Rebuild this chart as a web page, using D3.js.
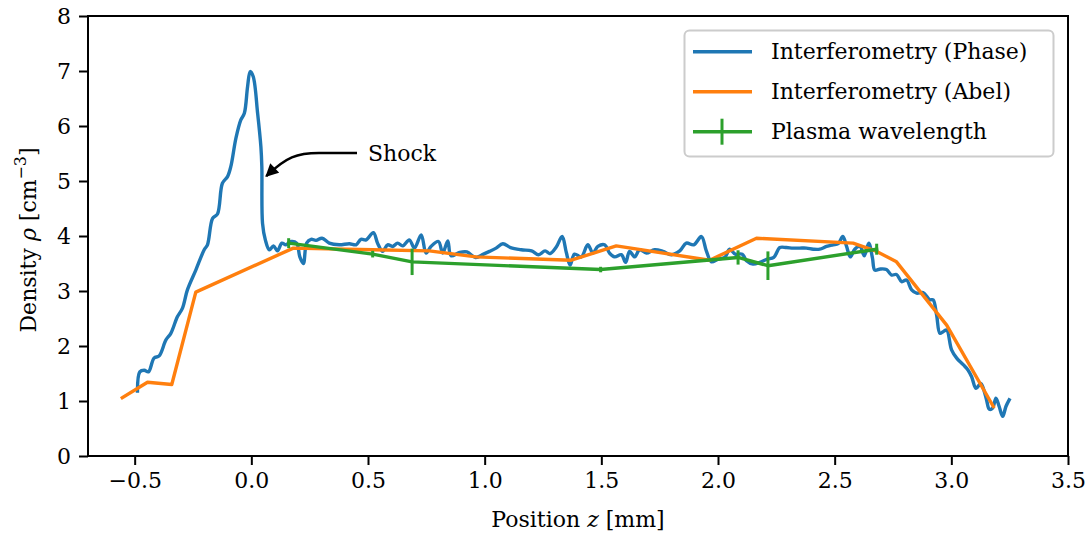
<!DOCTYPE html>
<html>
<head>
<meta charset="utf-8">
<script src="https://cdn.jsdelivr.net/npm/d3@7"></script>
<style>
  html, body { margin: 0; padding: 0; background: #fff; }
  svg { display: block; }
  text { font-family: "DejaVu Serif", "Liberation Serif", serif; fill: #000; }
</style>
</head>
<body>
<svg id="chart" width="1088" height="541"></svg>
<script>
// ---------- data ----------
const phaseZ = [-0.488,-0.478,-0.459,-0.441,-0.417,-0.395,-0.366,-0.345,-0.317,-0.295,-0.274,-0.238,-0.202,-0.188,-0.166,-0.145,-0.124,-0.102,-0.088,-0.066,-0.045,-0.030,-0.016,-0.005,0.008,0.027,0.041,0.045,0.048,0.060,0.077,0.095,0.112,0.131,0.148,0.170,0.194,0.208,0.223,0.237,0.256,0.277,0.303,0.334,0.377,0.420,0.449,0.470,0.492,0.523,0.541,0.563,0.584,0.606,0.627,0.649,0.677,0.699,0.728,0.749,0.770,0.802,0.820,0.842,0.856,0.892,0.924,0.961,0.995,1.021,1.049,1.078,1.111,1.157,1.201,1.231,1.259,1.280,1.307,1.332,1.350,1.366,1.385,1.414,1.442,1.464,1.485,1.514,1.535,1.557,1.586,1.604,1.621,1.643,1.664,1.693,1.728,1.764,1.800,1.836,1.864,1.896,1.929,1.950,1.972,2.000,2.029,2.050,2.074,2.104,2.122,2.150,2.179,2.211,2.239,2.265,2.293,2.322,2.350,2.379,2.408,2.436,2.465,2.493,2.515,2.535,2.551,2.567,2.586,2.608,2.627,2.646,2.662,2.672,2.696,2.722,2.744,2.765,2.787,2.808,2.830,2.851,2.879,2.908,2.922,2.937,2.951,2.965,2.980,3.001,3.023,3.051,3.072,3.087,3.106,3.126,3.137,3.151,3.163,3.177,3.191,3.205,3.220,3.234,3.248];
const phaseRho = [1.18,1.53,1.56,1.53,1.78,1.82,2.11,2.23,2.53,2.69,3.02,3.38,3.75,3.84,4.32,4.40,4.96,5.08,5.26,5.78,6.11,6.23,6.72,6.99,6.90,6.23,5.62,5.26,4.23,3.93,3.75,3.82,3.73,3.87,3.84,3.90,3.87,3.62,3.50,3.87,3.94,3.92,3.96,3.87,3.84,3.86,3.84,3.94,3.93,4.06,3.87,3.72,3.84,3.81,3.87,3.82,3.93,3.78,4.02,3.69,3.81,3.90,3.69,3.91,3.64,3.70,3.71,3.61,3.67,3.72,3.78,3.86,3.79,3.75,3.73,3.66,3.73,3.68,3.80,3.99,3.70,3.47,3.67,3.62,3.84,3.69,3.81,3.84,3.69,3.62,3.66,3.52,3.72,3.62,3.75,3.69,3.75,3.72,3.66,3.73,3.87,3.84,3.99,3.73,3.53,3.58,3.61,3.76,3.67,3.67,3.55,3.49,3.52,3.58,3.61,3.79,3.79,3.78,3.78,3.78,3.76,3.76,3.81,3.84,3.86,3.99,3.81,3.62,3.76,3.81,3.64,3.87,3.60,3.38,3.40,3.39,3.29,3.30,3.17,3.20,3.02,2.96,2.97,2.84,2.84,2.56,2.23,2.26,2.29,1.93,1.78,1.66,1.56,1.44,1.23,1.32,1.23,1.02,0.85,0.87,1.05,0.90,0.72,0.90,1.02];

const abelZ = [-0.553,-0.445,-0.341,-0.238,0.180,0.520,0.763,0.963,1.371,1.564,1.964,2.165,2.579,2.680,2.765,2.980,3.180];
const abelRho = [1.06,1.34,1.30,2.98,3.78,3.75,3.73,3.62,3.56,3.82,3.56,3.96,3.87,3.72,3.53,2.38,0.90];

const plasmaZ = [0.160,0.520,0.689,1.497,2.086,2.214,2.680];
const plasmaRho = [3.87,3.67,3.53,3.39,3.61,3.46,3.76];
const plasmaErr = [0.09,0.06,0.24,0.05,0.13,0.26,0.10];

const xTicks = [-0.5,0.0,0.5,1.0,1.5,2.0,2.5,3.0,3.5];
const yTicks = [0,1,2,3,4,5,6,7,8];
const seriesNames = ["Interferometry (Phase)","Interferometry (Abel)","Plasma wavelength"];
const seriesColors = ["#1f77b4","#ff7f0e","#2ca02c"];
const shockLabel = "Shock";
const shockText = [0.50, 5.51];
const shockTip = [0.064, 5.09];

// ---------- layout ----------
const svg = d3.select("#chart");
const L = 88, R = 1068, T = 16, B = 456;
const x = d3.scaleLinear().domain([-0.7, 3.5]).range([L, R]);
const y = d3.scaleLinear().domain([0, 8]).range([B, T]);
const FS = 22;
const FF = "DejaVu Serif";

const defs = svg.append("defs");
defs.append("marker").attr("id","arrowhead")
  .attr("viewBox","0 0 10 10").attr("refX",9).attr("refY",5)
  .attr("markerUnits","userSpaceOnUse")
  .attr("markerWidth",15).attr("markerHeight",13).attr("orient","auto")
  .append("path").attr("d","M0,0 L10,5 L0,10 z").attr("fill","#000");

const plot = svg.append("g");
const lw = 3.4;

// Blue
const phase = phaseZ.map((z,i)=>[z, phaseRho[i]]);
plot.append("path").datum(phase)
  .attr("fill","none").attr("stroke",seriesColors[0]).attr("stroke-width",lw)
  .attr("stroke-linejoin","round").attr("stroke-linecap","square")
  .attr("d", d3.line().x(d=>x(d[0])).y(d=>y(d[1])).curve(d3.curveCatmullRom.alpha(0.5)));

// Orange
const abel = abelZ.map((z,i)=>[z, abelRho[i]]);
plot.append("path").datum(abel)
  .attr("fill","none").attr("stroke",seriesColors[1]).attr("stroke-width",lw)
  .attr("stroke-linejoin","round").attr("stroke-linecap","square")
  .attr("d", d3.line().x(d=>x(d[0])).y(d=>y(d[1])));

// Green
const plasma = plasmaZ.map((z,i)=>[z, plasmaRho[i], plasmaErr[i]]);
plot.append("path").datum(plasma)
  .attr("fill","none").attr("stroke",seriesColors[2]).attr("stroke-width",lw)
  .attr("stroke-linejoin","round").attr("stroke-linecap","square")
  .attr("d", d3.line().x(d=>x(d[0])).y(d=>y(d[1])));
plot.selectAll("line.err").data(plasma).join("line").attr("class","err")
  .attr("x1",d=>x(d[0])).attr("x2",d=>x(d[0]))
  .attr("y1",d=>y(d[1]-d[2])).attr("y2",d=>y(d[1]+d[2]))
  .attr("stroke",seriesColors[2]).attr("stroke-width",3);

// Axes
const xAxis = svg.append("g").attr("transform",`translate(0,${B})`)
  .call(d3.axisBottom(x).tickValues(xTicks).tickSize(9).tickPadding(7)
    .tickFormat(d => d3.format(".1f")(d).replace("-", "\u2212")));
const yAxis = svg.append("g").attr("transform",`translate(${L},0)`)
  .call(d3.axisLeft(y).tickValues(yTicks).tickSize(9).tickPadding(8).tickFormat(d3.format("d")));
[xAxis,yAxis].forEach(a=>{
  a.attr("font-family",FF);
  a.select(".domain").remove();
  a.selectAll(".tick line").attr("stroke","#000").attr("stroke-width",2);
  a.selectAll(".tick text").attr("font-size",FS).attr("font-family",FF);
});
yAxis.selectAll(".tick text").attr("dy","0.36em");

// Frame
svg.append("rect").attr("x",L).attr("y",T).attr("width",R-L).attr("height",B-T)
  .attr("fill","none").attr("stroke","#000").attr("stroke-width",2);

// Axis labels
const xl = svg.append("text").attr("x",(L+R)/2).attr("y",527).attr("text-anchor","middle").attr("font-size",FS);
xl.append("tspan").text("Position ");
xl.append("tspan").attr("font-style","italic").text("z");
xl.append("tspan").text(" [mm]");

const yl = svg.append("text").attr("transform",`translate(36,${(T+B)/2 + 4}) rotate(-90)`)
  .attr("text-anchor","middle").attr("font-size",FS);
yl.append("tspan").text("Density ");
yl.append("tspan").attr("font-style","italic").text("\u03c1");
yl.append("tspan").text(" [cm");
yl.append("tspan").attr("font-size",FS*0.72).attr("dy",-10).text("\u22123");
yl.append("tspan").attr("dy",10).text("]");

// Shock annotation
const tx = x(shockText[0]), ty = y(shockText[1]);
svg.append("text").attr("x",tx).attr("y",ty).attr("dy","0.35em").attr("font-size",FS).text(shockLabel);
const sx = tx - 11, sy = ty;
const ex = x(shockTip[0]), ey = y(shockTip[1]);
svg.append("path")
  .attr("d",`M${sx},${sy} L${sx-38},${sy} C${sx-60},${sy} ${ex+20},${sy+4} ${ex},${ey}`)
  .attr("fill","none").attr("stroke","#000").attr("stroke-width",2.5)
  .attr("marker-end","url(#arrowhead)");

// Legend
const lg = svg.append("g");
lg.append("rect").attr("x",684.5).attr("y",30.5).attr("width",369).attr("height",126)
  .attr("rx",5).attr("fill","#fff").attr("fill-opacity",0.8)
  .attr("stroke","#cccccc").attr("stroke-width",2);
seriesNames.forEach((name,i)=>{
  const yy = 51.7 + i*40;
  lg.append("line").attr("x1",693).attr("x2",752).attr("y1",yy).attr("y2",yy)
    .attr("stroke",seriesColors[i]).attr("stroke-width",lw);
  if (i===2) {
    lg.append("line").attr("x1",722).attr("x2",722).attr("y1",yy-13).attr("y2",yy+13)
      .attr("stroke",seriesColors[i]).attr("stroke-width",3);
  }
  lg.append("text").attr("x",771).attr("y",yy).attr("dy","0.35em").attr("font-size",FS).text(name);
});
</script>
</body>
</html>
